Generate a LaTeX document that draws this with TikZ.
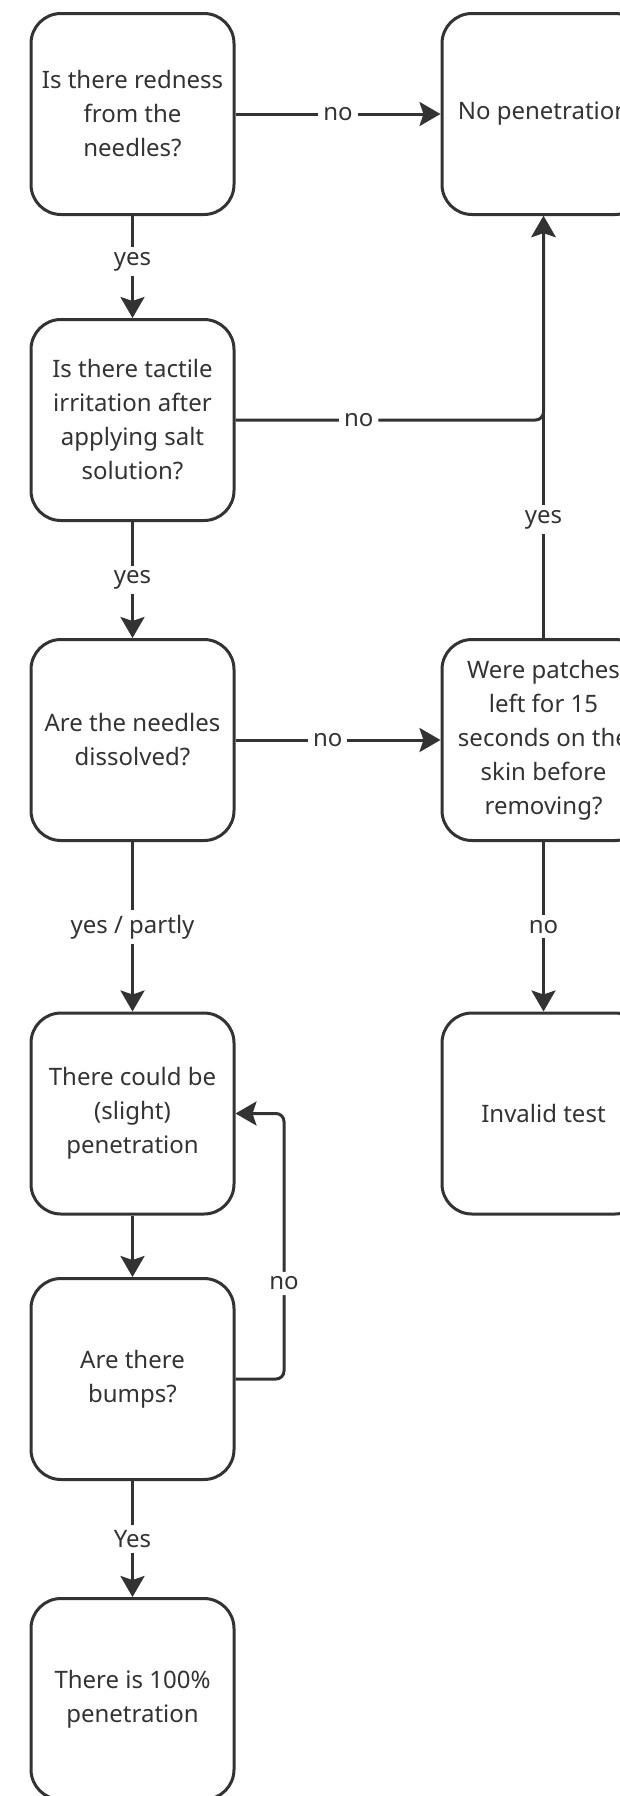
\documentclass[tikz,border=0pt]{standalone}
\usepackage{fontspec}
\setmainfont{Noto Sans}
\usetikzlibrary{arrows.meta}
\definecolor{ink}{HTML}{333333}
\begin{document}
\begin{tikzpicture}[x=1pt,y=-1pt,
  box/.style={draw=ink, line width=3pt, rounded corners=30pt, minimum width=203pt, minimum height=201pt, align=center, text=ink, font=\fontsize{24}{34}\selectfont, inner sep=0pt},
  conn/.style={draw=ink, line width=3pt, -{Stealth[length=21pt,width=24pt,inset=4pt]}},
  lbl/.style={fill=white, text=ink, font=\fontsize{24}{28}\selectfont, inner sep=5pt}
]
\useasboundingbox (0,0) rectangle (620,1796);
\clip (0,0) rectangle (620,1796);
\fill[white] (0,0) rectangle (620,1796);

\node[box] (q1) at (132.5,114) {Is there redness\\from the\\needles?};
\node[box] (np) at (543.5,114) {No penetration};
\node[box] (q2) at (132.5,420) {Is there tactile\\irritation after\\applying salt\\solution?};
\node[box] (q3) at (132.5,740) {Are the needles\\dissolved?};
\node[box] (q4) at (543.5,740) {Were patches\\left for 15\\seconds on the\\skin before\\removing?};
\node[box] (r5) at (132.5,1113.5) {There could be\\(slight)\\penetration};
\node[box] (inv) at (543.5,1113.5) {Invalid test};
\node[box] (q7) at (132.5,1379) {Are there\\bumps?};
\node[box] (r8) at (132.5,1699) {There is 100\%\\penetration};

\coordinate (lx) at (284,0);

\draw[conn] (q1) -- node[lbl,pos=0.45]{yes} (q2);
\draw[conn] (q1) -- node[lbl]{no} (np);
\draw[conn] (q2) -- node[lbl]{yes} (q3);
\draw[conn] (q4) -- node[lbl,pos=0.28]{yes} (np);
\draw[conn, rounded corners=8pt] (q2.east) -- node[lbl,pos=0.4]{no} (np.south |- q2.east) -- (np.south);
\draw[conn] (q3) -- node[lbl,pos=0.45]{no} (q4);
\draw[conn] (q3) -- node[lbl]{yes / partly} (r5);
\draw[conn] (q4) -- node[lbl]{no} (inv);
\draw[conn] (r5) -- (q7);
\draw[conn, rounded corners=8pt] (q7.east) -- (q7.east -| lx) -- node[lbl,pos=0.36]{no} (r5.east -| lx) -- (r5.east);
\draw[conn] (q7) -- node[lbl]{Yes} (r8);
\end{tikzpicture}
\end{document}
